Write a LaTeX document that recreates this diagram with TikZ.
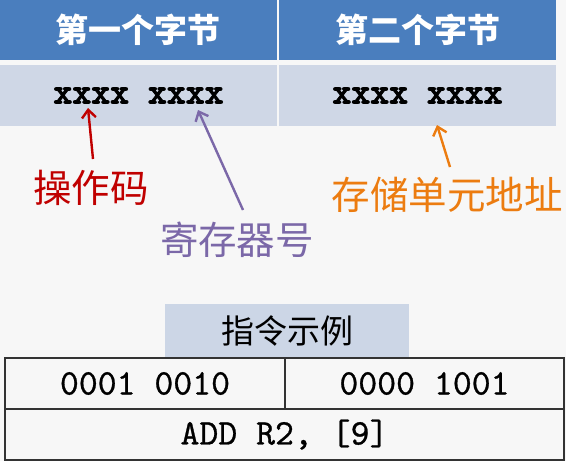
\documentclass[tikz,border=0pt]{standalone}
\usepackage{fontspec}
\newfontfamily\cjk{Noto Sans CJK SC}
\newfontfamily\bmono{lmmonolt10-bold.otf}[FakeBold=2.5]
\newfontfamily\rmono{lmmono10-regular.otf}[FakeBold=0.8]
\usetikzlibrary{arrows.meta}
\definecolor{bg}{HTML}{F7F7F7}
\definecolor{hdr}{HTML}{4A7EBE}
\definecolor{rowc}{HTML}{CFD7E6}
\definecolor{exc}{HTML}{CCD6E6}
\definecolor{redc}{HTML}{C00000}
\definecolor{purc}{HTML}{7B68A8}
\definecolor{orac}{HTML}{EC7C10}
\definecolor{linec}{HTML}{333333}
\tikzset{
  hdrcell/.style={fill=hdr, text=white, minimum width=277pt, minimum height=60pt, inner sep=0pt,
    font=\cjk\bfseries\fontsize{33}{38}\selectfont},
  rowcell/.style={fill=rowc, minimum width=277pt, minimum height=61pt, inner sep=0pt,
    font=\bmono\fontsize{36}{40}\selectfont},
  lbl/.style={inner sep=0pt, font=\cjk\fontsize{38.5}{44}\selectfont},
  arr/.style={line width=2.4pt, -{Straight Barb[length=8pt,width=14pt,line width=2.4pt]}},
  tcell/.style={draw=linec, line width=1.4pt, minimum height=51pt, inner sep=0pt,
    font=\rmono\fontsize{36}{40}\selectfont},
  exbox/.style={fill=exc, minimum width=244pt, minimum height=54pt, inner sep=0pt,
    font=\cjk\fontsize{33}{38}\selectfont}
}
\begin{document}
\begin{tikzpicture}[x=1pt,y=-1pt]
\fill[bg] (0,0) rectangle (566,461);
\useasboundingbox (0,0) rectangle (566,461);
% header
\node[hdrcell] (h1) at (138.5,30) {第一个字节};
\node[hdrcell] (h2) at (417.5,30) {第二个字节};
\node[rowcell] (r1) at (138.5,95.5) {xxxx xxxx};
\node[rowcell] (r2) at (417.5,95.5) {xxxx xxxx};
% labels
\node[lbl, text=redc] (l1) at (91,188) {操作码};
\node[lbl, text=purc] (l2) at (237,240) {寄存器号};
\node[lbl, text=orac] (l3) at (447,195) {存储单元地址};
% arrows
\coordinate (s1) at (93,159);
\coordinate (t1) at (88,108);
\coordinate (s2) at (243,210);
\coordinate (t2) at (198,110);
\coordinate (s3) at (450,167);
\coordinate (t3) at (437,125);
\draw[arr, redc] (s1) -- (t1);
\draw[arr, purc] (s2) -- (t2);
\draw[arr, orac] (s3) -- (t3);
% example
\node[exbox] (ex) at (287,331) {指令示例};
\node[tcell, minimum width=280pt] (c1) at (145,383.5) {0001 0010};
\node[tcell, minimum width=279pt] (c2) at (424.5,383.5) {0000 1001};
\node[tcell, minimum width=559pt] (c3) at (284.5,434.5) {ADD R2, [9]};
\end{tikzpicture}
\end{document}
